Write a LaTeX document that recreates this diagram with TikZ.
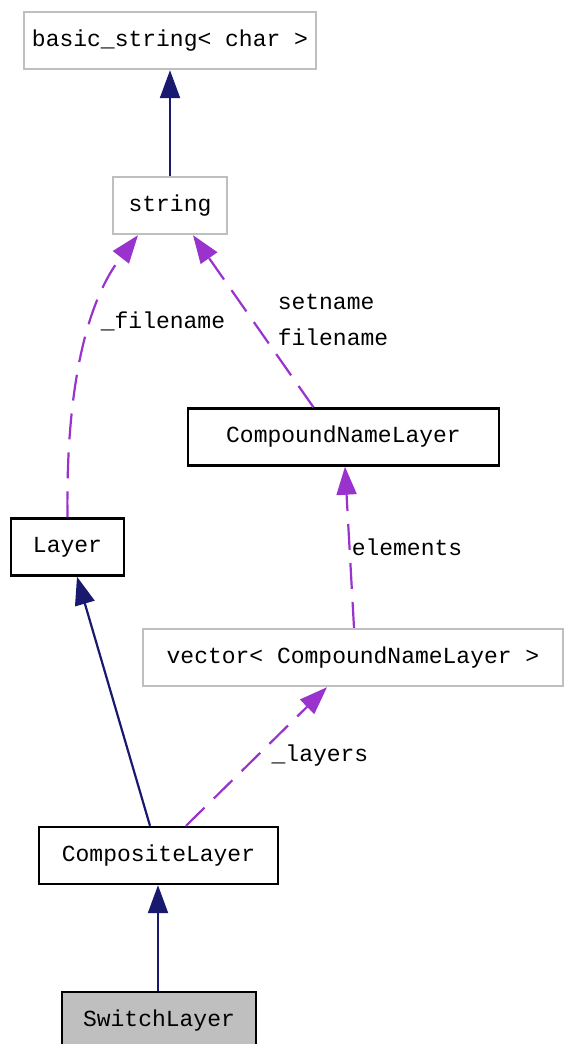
\documentclass[tikz,border=0pt]{standalone}
\usepackage{fontspec}
\setmonofont{Liberation Mono}
\usetikzlibrary{
arrows.meta,
calc,
positioning
}
\definecolor{inheritblue}{HTML}{191970}
\definecolor{usepurple}{HTML}{9A32CD}
\definecolor{boxgray}{HTML}{BFBFBF}
\tikzset{
class_font/.style={font=\ttfamily\fontsize{23}{27}\selectfont}
}
\begin{document}
\begin{tikzpicture}
[x=1pt, y=-1pt,
class_box/.style ={rectangle, draw=black, line width=2.4pt, fill=white, inner sep=0pt, minimum height=57pt, class_font},
class_ext/.style ={class_box, draw=boxgray},
class_this/.style ={class_box, fill=boxgray},
line_inherit/.style ={draw=inheritblue, line width=2.2pt, -{Triangle[length=28pt,width=20pt]}},
line_use/.style ={draw=usepurple, line width=2.2pt, dash pattern=on 26pt off 13pt, -{Triangle[length=28pt,width=20pt]}},
edge_label/.style ={class_font, align=left, inner sep=0pt}
]
\useasboundingbox (0,0) rectangle (563,1044);

%%% Klassen %%%
\node [class_ext, minimum width=292pt] (basicstr) at (170,40.5) {basic\_string< char >};
\node [class_ext, minimum width=114pt] (str) at (170,205.5) {string};
\node [class_box, minimum width=311pt] (cnl) at (343.5,437) {CompoundNameLayer};
\node [class_box, minimum width=113pt] (layer) at (67.5,547) {Layer};
\node [class_ext, minimum width=420pt] (vec) at (353,657.5) {vector< CompoundNameLayer >};
\node [class_box, minimum width=239pt] (composite) at (158.5,855.5) {CompositeLayer};
\node [class_this, minimum width=194pt] (switch) at (159,1020.5) {SwitchLayer};

%%% Vererbung %%%
\draw [line_inherit] (str.north) -- (basicstr.south);
\draw [line_inherit] ([xshift=-8.5pt]composite.north) -- ([xshift=9.5pt]layer.south);
\draw [line_inherit] ([xshift=-1pt]switch.north) -- ([xshift=-0.5pt]composite.south);

%%% Verwendung %%%
\draw [line_use] (layer.north) .. controls (66,410) and (80,310) .. ([xshift=-32pt]str.south);
\draw [line_use] ([xshift=-30pt]cnl.north) -- ([xshift=23pt]str.south);
\draw [line_use] ([xshift=1pt]vec.north) -- ([xshift=1.5pt]cnl.south);
\draw [line_use] ([xshift=27.5pt]composite.north) -- ([xshift=-26pt]vec.south);

%%% Beschriftungen %%%
\node [edge_label] (lfile) at (163,321) {\_filename};
\node [edge_label] (lset) at (333,320) {setname\\[9pt]filename};
\node [edge_label] (lelem) at (407,547) {elements};
\node [edge_label] (llayers) at (320,756) {\_layers};

\end{tikzpicture}
\end{document}
